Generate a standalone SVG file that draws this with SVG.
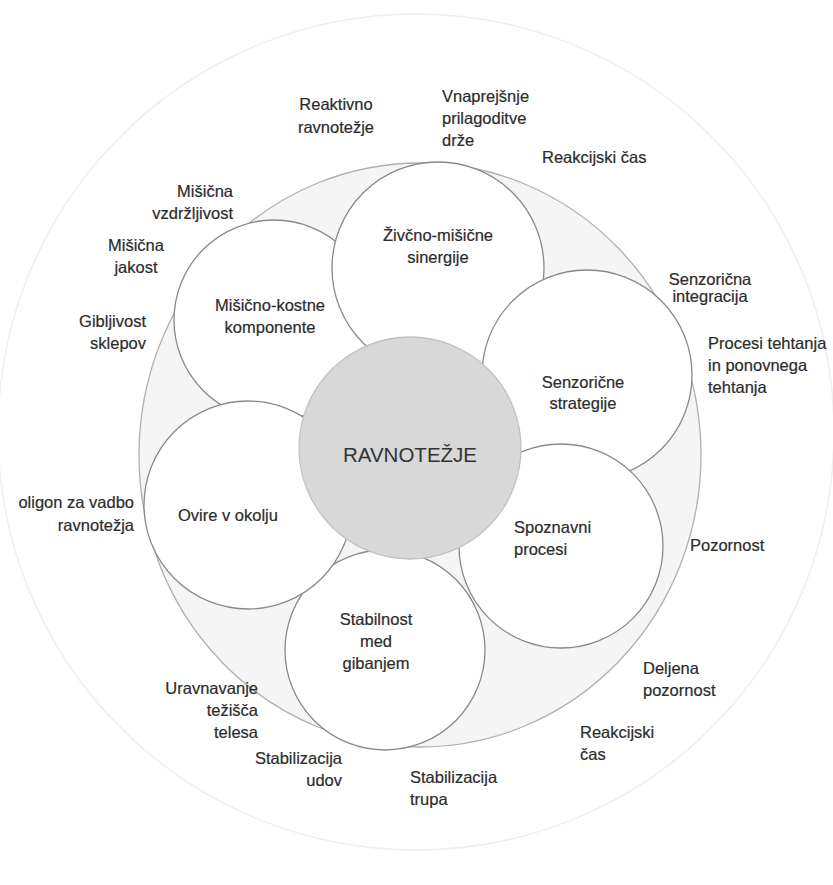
<svg xmlns="http://www.w3.org/2000/svg" width="833" height="885" viewBox="0 0 833 885">
<style>
.lbl{font-family:"Liberation Sans",Arial,sans-serif;font-size:16.5px;fill:#2c2c2c;stroke:#2c2c2c;stroke-width:0.2}
.sub{fill:#ffffff;stroke:#8a8a8a;stroke-width:1.3}
.c{text-anchor:middle}
.e{text-anchor:end}
</style>
<rect width="833" height="885" fill="#ffffff"/>
<g id="outer"><circle cx="416" cy="432" r="418" fill="none" stroke="#eeeeee" stroke-width="1.5"/></g>
<g id="ring"><ellipse cx="420" cy="455" rx="281" ry="292" fill="#f5f5f5" stroke="#b0b0b0" stroke-width="1.3"/></g>
<g id="connectors"></g>
<g id="n-misicno"><circle class="sub" cx="274" cy="320" r="100"/>
<text class="lbl c" x="270" y="311">Mišično-kostne</text><text class="lbl c" x="270" y="333">komponente</text></g>
<g id="n-zivcno"><circle class="sub" cx="438" cy="268" r="106"/>
<text class="lbl c" x="438" y="241">Živčno-mišične</text><text class="lbl c" x="438" y="263">sinergije</text></g>
<g id="n-senzoricne"><circle class="sub" cx="587" cy="375" r="105"/>
<text class="lbl c" x="583" y="388">Senzorične</text><text class="lbl c" x="583" y="409">strategije</text></g>
<g id="n-spoznavni"><circle class="sub" cx="561" cy="546" r="102"/>
<text class="lbl" x="514" y="533">Spoznavni</text><text class="lbl" x="514" y="555">procesi</text></g>
<g id="n-stabilnost"><circle class="sub" cx="385" cy="650" r="100"/>
<text class="lbl c" x="376" y="625">Stabilnost</text><text class="lbl c" x="376" y="647">med</text><text class="lbl c" x="376" y="669">gibanjem</text></g>
<g id="n-ovire"><circle class="sub" cx="248" cy="505" r="104"/>
<text class="lbl c" x="228" y="521">Ovire v okolju</text></g>
<g id="n-ravnotezje"><circle cx="410" cy="448" r="111" fill="#d8d8d8" stroke="#c2c2c2" stroke-width="1.3"/>
<text x="410" y="462" text-anchor="middle" font-family="Liberation Sans,Arial,sans-serif" font-size="20.5" fill="#333333">RAVNOTEŽJE</text></g>
<g id="labels">
<text class="lbl c" x="336" y="110">Reaktivno</text><text class="lbl c" x="336" y="133">ravnotežje</text>
<text class="lbl" x="442" y="102">Vnaprejšnje</text><text class="lbl" x="442" y="124">prilagoditve</text><text class="lbl" x="442" y="146">drže</text>
<text class="lbl" x="542" y="163">Reakcijski čas</text>
<text class="lbl e" x="233" y="197">Mišična</text><text class="lbl e" x="233" y="219">vzdržljivost</text>
<text class="lbl c" x="136" y="251">Mišična</text><text class="lbl c" x="136" y="273">jakost</text>
<text class="lbl e" x="146" y="327">Gibljivost</text><text class="lbl e" x="146" y="349">sklepov</text>
<text class="lbl c" x="710" y="285">Senzorična</text><text class="lbl c" x="710" y="302">integracija</text>
<text class="lbl" x="708" y="349">Procesi tehtanja</text><text class="lbl" x="708" y="371">in ponovnega</text><text class="lbl" x="708" y="393">tehtanja</text>
<text class="lbl e" x="134" y="508">oligon za vadbo</text><text class="lbl e" x="134" y="531">ravnotežja</text>
<text class="lbl" x="690" y="551">Pozornost</text>
<text class="lbl" x="643" y="674">Deljena</text><text class="lbl" x="643" y="696">pozornost</text>
<text class="lbl" x="580" y="738">Reakcijski</text><text class="lbl" x="580" y="760">čas</text>
<text class="lbl e" x="258" y="694">Uravnavanje</text><text class="lbl e" x="258" y="716">težišča</text><text class="lbl e" x="258" y="738">telesa</text>
<text class="lbl e" x="342" y="764">Stabilizacija</text><text class="lbl e" x="342" y="786">udov</text>
<text class="lbl" x="410" y="783">Stabilizacija</text><text class="lbl" x="410" y="805">trupa</text>
</g>
</svg>
